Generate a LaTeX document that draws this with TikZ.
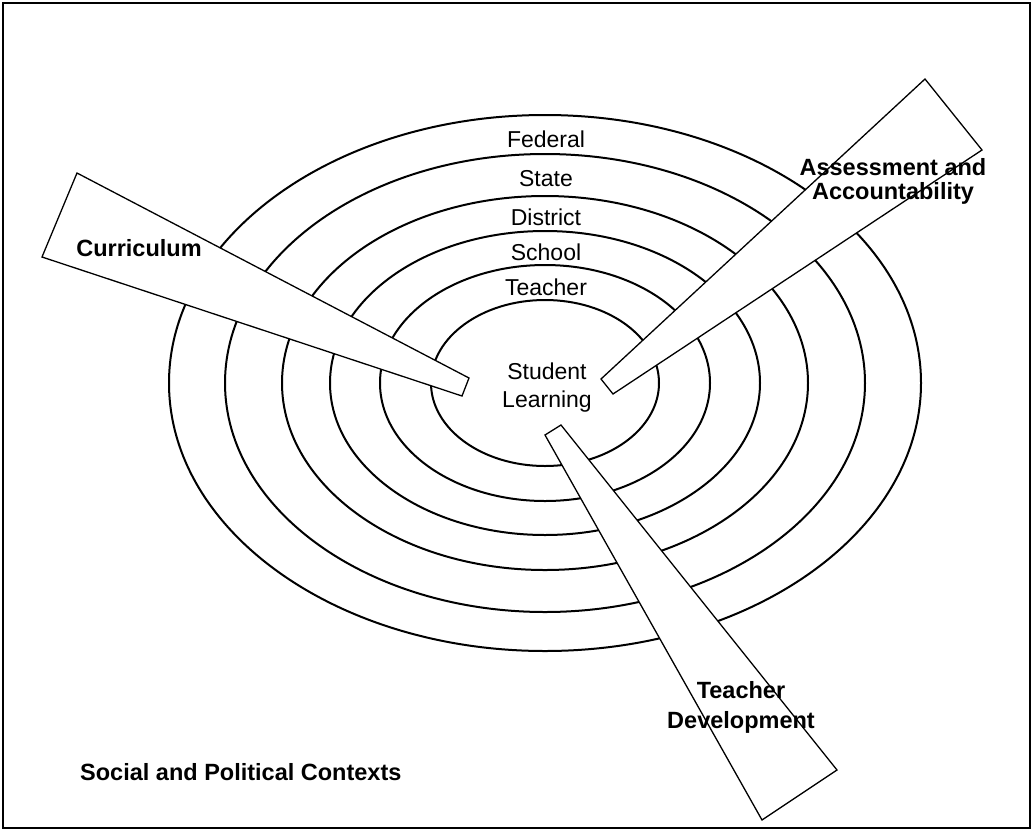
\documentclass[tikz,border=0pt]{standalone}
\usepackage{fontspec}
\setmainfont{Liberation Sans}
\usepackage{tikz}

\tikzset{
  ring/.style={draw, line width=2pt},
  wedge/.style={draw, fill=white, line width=1.3pt, line join=miter},
  level/.style={font=\fontsize{23}{28}\selectfont, inner sep=0pt},
  theme/.style={font=\fontsize{23.5}{24}\selectfont\bfseries, inner sep=0pt, align=center}
}

\begin{document}
\begin{tikzpicture}[x=1pt, y=-1pt]
\useasboundingbox (0,0) rectangle (1034,831);
\draw[line width=2pt] (3,3) rectangle (1030,828);

\foreach \rx/\ry in {114/83, 165/118, 215/152, 263/187, 320/229, 376/268}
	\draw[ring] (545,383) ellipse [x radius=\rx pt, y radius=\ry pt];

\draw[wedge] (77,173) -- (469,378) -- (462,396) -- (42,257) -- cycle;
\draw[wedge] (925,79) -- (982,150) -- (613,394) -- (601,379) -- cycle;
\draw[wedge] (561,425) -- (837,770) -- (762,820) -- (545,435) -- cycle;

\foreach \name/\y in {Federal/139, State/179, District/217, School/252, Teacher/287}
	\node[level] (\name) at (546,\y) {\name};
\node[level, align=center] (student) at (547,388) {Student\\Learning};

\node[theme] (curriculum) at (139,248) {Curriculum};
\node[theme] (assessment) at (893,181) {Assessment and\\Accountability};
\node[theme, font=\fontsize{23.5}{30}\selectfont\bfseries] (teacherdev) at (741,707) {Teacher\\Development};
\node[theme, anchor=west] (contexts) at (80,772) {Social and Political Contexts};

\end{tikzpicture}
\end{document}
